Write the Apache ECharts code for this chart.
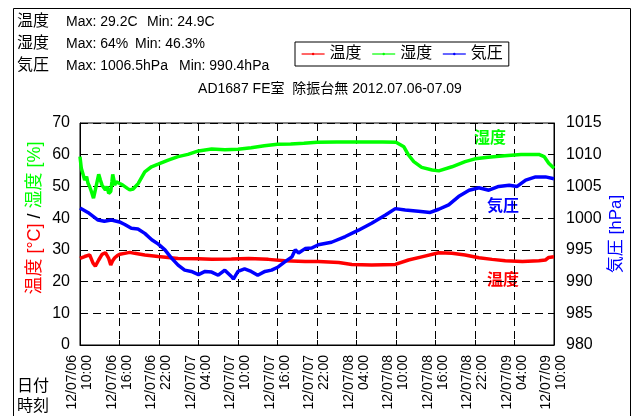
<!DOCTYPE html>
<html>
<head>
<meta charset="utf-8">
<script src="https://cdn.jsdelivr.net/npm/echarts@6/dist/echarts.min.js"></script>
<style>
  html, body { margin: 0; padding: 0; background: #fff; }
  #chart { width: 638px; height: 416px; }
</style>
</head>
<body>
<div id="chart"></div>
<script>
// Elapsed hours from 2012/07/06 10:00 and readings for each sensor
const tempHours = [0, 0.71, 1.47, 1.98, 2.33, 2.84, 3.35, 3.86, 4.36, 4.67, 4.97, 5.28, 5.68, 6.04, 6.8, 7.56, 8.3, 9.84, 11.87, 14.9, 18, 20, 23, 25.6, 28.6, 31.1, 34.2, 36.2, 39.3, 41.3, 44.3, 47.9, 49.9, 51.9, 54.5, 56.5, 58.5, 60.6, 62.6, 64.6, 67.2, 69.7, 70.7, 71.2, 72];
const tempValues = [27.3, 27.9, 28.4, 25.8, 24.9, 26.8, 28.6, 29.1, 27.3, 25.2, 26.6, 27.5, 28.2, 28.6, 28.9, 29.2, 28.9, 28.4, 27.9, 27.3, 27.2, 27.0, 27.1, 27.3, 27.0, 26.6, 26.3, 26.3, 26.0, 25.4, 25.2, 25.4, 26.8, 27.8, 29.1, 28.9, 28.4, 27.5, 27.0, 26.6, 26.3, 26.6, 26.8, 27.6, 27.8];

const humHours = [0, 0.2, 0.71, 1.0, 1.22, 1.47, 1.73, 2.05, 2.33, 2.6, 2.84, 3.1, 3.35, 3.6, 3.86, 4.1, 4.36, 4.67, 4.85, 4.97, 5.15, 5.28, 5.5, 5.8, 6.04, 6.5, 6.8, 7.2, 7.56, 8.07, 8.83, 9.84, 10.86, 11.87, 13.4, 14.9, 16.4, 18, 20, 22, 24, 26, 28, 30, 32, 34, 36, 39, 42, 46, 48, 49.2, 49.9, 50.7, 51.9, 53.5, 54.5, 56.5, 58.5, 60, 62, 64.5, 67, 69.7, 70.5, 71.2, 72];
const humValues = [59.4, 55.7, 52.0, 53.1, 51.0, 49.9, 48.4, 46.3, 48.9, 51.5, 53.8, 52.0, 50.4, 49.9, 48.9, 50.0, 47.8, 48.4, 51.5, 53.8, 52.0, 50.4, 51.5, 52.0, 50.9, 50.4, 49.9, 49.4, 48.9, 49.2, 50.9, 54.6, 56.2, 57.0, 58.3, 59.4, 60.1, 61.2, 61.8, 61.6, 61.7, 62.2, 62.8, 63.3, 63.4, 63.6, 63.9, 64.0, 64.0, 64.0, 63.9, 62.5, 59.9, 57.8, 56.0, 55.2, 54.9, 56.2, 57.8, 58.7, 59.2, 59.7, 60.1, 60.1, 59.4, 57.3, 55.7];

const presHours = [0, 1.2, 2.74, 3.7, 4.77, 6.0, 6.8, 7.8, 8.8, 9.84, 10.9, 11.9, 12.9, 13.9, 14.9, 15.9, 16.9, 18, 19, 20, 21, 22, 23, 23.3, 24, 25, 26, 27, 28.1, 29.1, 30.1, 31.1, 32.2, 32.7, 33.2, 34.2, 35.2, 36.2, 38.2, 40.3, 42.3, 44.3, 46.4, 47.9, 49.4, 51.4, 53.2, 54.5, 56, 57.5, 59.1, 60.6, 62.1, 63.6, 65.2, 66.4, 67.7, 69.2, 70.7, 72];
const presValues = [1001.6, 1000.9, 999.7, 999.5, 999.7, 999.4, 999.0, 998.4, 998.3, 997.6, 996.6, 995.9, 995.0, 993.7, 992.6, 991.8, 991.6, 991.1, 991.6, 991.5, 991.0, 991.8, 990.8, 990.4, 991.6, 992.0, 991.6, 991.0, 991.6, 991.8, 992.3, 993.1, 993.9, 995.0, 994.5, 995.2, 995.3, 995.8, 996.2, 997.1, 998.1, 999.2, 1000.5, 1001.5, 1001.3, 1001.1, 1000.9, 1001.4, 1002.1, 1003.4, 1004.4, 1004.8, 1004.4, 1005.0, 1005.2, 1005.0, 1006.0, 1006.5, 1006.5, 1006.2];

// Tick labels every 6 hours
const xTickLabels = [
  '12/07/06\n10:00', '12/07/06\n16:00', '12/07/06\n22:00', '12/07/07\n04:00',
  '12/07/07\n10:00', '12/07/07\n16:00', '12/07/07\n22:00', '12/07/08\n04:00',
  '12/07/08\n10:00', '12/07/08\n16:00', '12/07/08\n22:00', '12/07/09\n04:00',
  '12/07/09\n10:00'
];

const seriesNames = ['温度', '湿度', '気圧'];
const summaryLines = [
  ['温度', 'Max: 29.2C', 'Min: 24.9C'],
  ['湿度', 'Max: 64%', 'Min: 46.3%'],
  ['気圧', 'Max: 1006.5hPa', 'Min: 990.4hPa']
];
const chartTitle = 'AD1687 FE室  除振台無 2012.07.06-07.09';

const FONT = "'Liberation Sans', 'Noto Sans CJK JP', sans-serif";
const RED = '#ff0000', GREEN = '#00ff00', BLUE = '#0000ff';

const pairs = (xs, ys) => xs.map((x, i) => [x, ys[i]]);

const chart = echarts.init(document.getElementById('chart'), null, { renderer: 'canvas' });

const graphics = [
  { type: 'rect', shape: { x: 13.5, y: 8.5, width: 617, height: 430 },
    style: { fill: null, stroke: '#000', lineWidth: 1 }, z: -10, silent: true },
  { type: 'text', x: 330, y: 89,
    style: { text: chartTitle, font: '14px ' + FONT, fill: '#000', align: 'center', verticalAlign: 'middle' } },
  { type: 'text', x: 35, y: 218, rotation: Math.PI / 2,
    style: {
      text: '{r|温度 [°C]}{k| / }{g|湿度 [%]}',
      align: 'center', verticalAlign: 'middle',
      rich: {
        r: { fill: RED, font: '18px ' + FONT },
        k: { fill: '#000', font: '18px ' + FONT },
        g: { fill: GREEN, font: '18px ' + FONT }
      }
    } },
  { type: 'text', x: 616, y: 234, rotation: Math.PI / 2,
    style: { text: '気圧 [hPa]', font: '17px ' + FONT, fill: BLUE, align: 'center', verticalAlign: 'middle' } },
  { type: 'text', x: 490, y: 139,
    style: { text: '湿度', font: 'bold 16px ' + FONT, fill: GREEN, align: 'center', verticalAlign: 'middle' } },
  { type: 'text', x: 503, y: 207,
    style: { text: '気圧', font: 'bold 16px ' + FONT, fill: BLUE, align: 'center', verticalAlign: 'middle' } },
  { type: 'text', x: 503, y: 281,
    style: { text: '温度', font: 'bold 16px ' + FONT, fill: RED, align: 'center', verticalAlign: 'middle' } },
  { type: 'text', x: 17, y: 387,
    style: { text: '日付', font: '16px ' + FONT, fill: '#000', verticalAlign: 'middle' } },
  { type: 'text', x: 17, y: 407,
    style: { text: '時刻', font: '16px ' + FONT, fill: '#000', verticalAlign: 'middle' } }
];

const rowY = [22, 44, 66];
const minX = [147, 135, 179];
summaryLines.forEach((row, i) => {
  graphics.push({ type: 'text', x: 17, y: rowY[i],
    style: { text: row[0], font: '16px ' + FONT, fill: '#000', verticalAlign: 'middle' } });
  graphics.push({ type: 'text', x: 66, y: rowY[i],
    style: { text: row[1], font: '14px ' + FONT, fill: '#000', verticalAlign: 'middle' } });
  graphics.push({ type: 'text', x: minX[i], y: rowY[i],
    style: { text: row[2], font: '14px ' + FONT, fill: '#000', verticalAlign: 'middle' } });
});

const lineSeries = (name, color, data, yIndex) => ({
  name, type: 'line', yAxisIndex: yIndex, data,
  symbol: 'circle', symbolSize: 3, showSymbol: false,
  lineStyle: { color, width: 3.5 }, itemStyle: { color },
  animation: false, z: 3
});

chart.setOption({
  animation: false,
  textStyle: { fontFamily: FONT },
  grid: { left: 80, right: 84, top: 123, bottom: 71, show: true, borderColor: '#000', borderWidth: 1 },
  legend: {
    data: seriesNames, left: 295, top: 42,
    itemWidth: 23, itemHeight: 3, itemGap: 10,
    padding: [4, 6, 4, 6], borderColor: '#000', borderWidth: 1,
    lineStyle: { width: 1.2 },
    textStyle: { fontSize: 16, color: '#000', fontFamily: FONT }
  },
  xAxis: {
    type: 'value', min: 0, max: 72, interval: 6,
    axisLine: { lineStyle: { color: '#000' } },
    axisTick: { inside: true, length: 5, lineStyle: { color: '#000' } },
    axisLabel: {
      rotate: 90, margin: 10, color: '#000', fontSize: 14, lineHeight: 15, fontFamily: FONT,
      formatter: v => xTickLabels[Math.round(v / 6)]
    },
    splitLine: { show: true, lineStyle: { color: '#000', type: [8, 5], width: 1 } }
  },
  yAxis: [
    {
      type: 'value', min: 0, max: 70, interval: 10, position: 'left',
      axisLine: { show: true, lineStyle: { color: '#000' } },
      axisTick: { show: false },
      axisLabel: { color: '#000', fontSize: 16, margin: 10, fontFamily: FONT, formatter: v => String(v) },
      splitLine: { show: true, lineStyle: { color: '#000', type: [8, 5], width: 1 } }
    },
    {
      type: 'value', min: 980, max: 1015, interval: 5, position: 'right',
      axisLine: { show: true, lineStyle: { color: '#000' } },
      axisTick: { show: false },
      axisLabel: { color: '#000', fontSize: 16, margin: 12, fontFamily: FONT, formatter: v => String(v) },
      splitLine: { show: false }
    }
  ],
  series: [
    lineSeries(seriesNames[0], RED, pairs(tempHours, tempValues), 0),
    lineSeries(seriesNames[1], GREEN, pairs(humHours, humValues), 0),
    lineSeries(seriesNames[2], BLUE, pairs(presHours, presValues), 1)
  ],
  graphic: graphics
});
</script>
</body>
</html>
